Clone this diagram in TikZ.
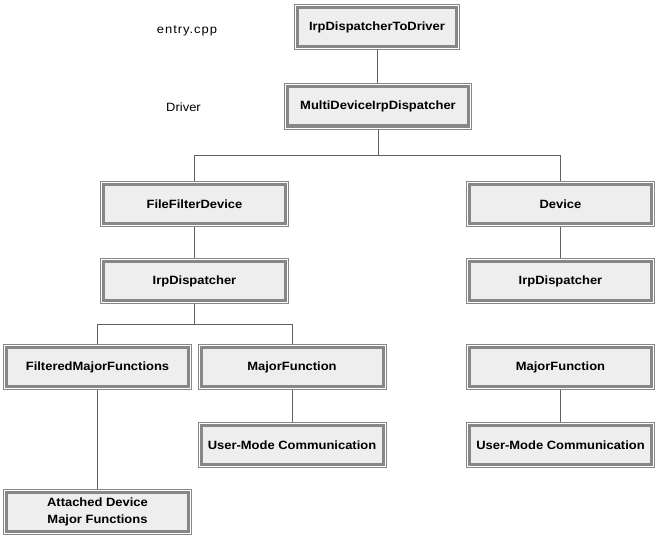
\documentclass[tikz,border=0pt]{standalone}
\usepackage{fontspec}
\setmainfont{Liberation Sans}[FakeStretch=1.08]
\definecolor{boxfill}{HTML}{EEEEEE}
\definecolor{boxline}{HTML}{878787}
\definecolor{conn}{HTML}{606060}
\begin{document}
\begin{tikzpicture}[x=1pt,y=-1pt,
  cls/.style={rectangle, inner sep=0pt, outer sep=3.5pt,
    minimum width=182pt, minimum height=39pt,
    font=\fontsize{12}{17}\selectfont\bfseries, align=center,
    preaction={draw=boxline, line width=7pt},
    preaction={draw=white, line width=5pt},
    fill=boxfill, draw=boxline, line width=3pt},
  lbl/.style={font=\fontsize{12}{14}\selectfont},
  link/.style={draw=conn, line width=0.9pt}]
\useasboundingbox[fill=white] (0,0) rectangle (662,543);
\node[cls, minimum width=159pt] (top) at (377,27) {IrpDispatcherToDriver};
\node[cls, minimum width=181pt] (multi) at (378,106.5) {MultiDeviceIrpDispatcher};
\node[cls] (ffd) at (194.5,204) {FileFilterDevice};
\node[cls] (dev) at (560.5,204) {Device};
\node[cls] (irpl) at (194.5,281) {IrpDispatcher};
\node[cls] (irpr) at (560.5,281) {IrpDispatcher};
\node[cls] (fmf) at (97.5,367) {FilteredMajorFunctions};
\node[cls] (mfl) at (292,367) {MajorFunction};
\node[cls] (mfr) at (560.5,367) {MajorFunction};
\node[cls] (umcl) at (292,445) {User-Mode Communication};
\node[cls] (umcr) at (560.5,445) {User-Mode Communication};
\node[cls] (admf) at (97.5,511.5) {Attached Device\\Major Functions};
\node[lbl] (entry) at (187,31) {\addfontfeature{LetterSpace=8}entry.cpp};
\node[lbl] (drv) at (183.5,107) {Driver};
\coordinate (b1) at (377,155);
\coordinate (b2) at (194.5,324);
\draw[link] (top) -- (top.south |- multi.north);
\draw[link] (multi) -- (multi.south |- b1) -| (ffd.north);
\draw[link] (multi.south |- b1) -| (dev.north);
\draw[link] (ffd) -- (irpl);
\draw[link] (dev) -- (irpr);
\draw[link] (irpl) -- (irpl.south |- b2) -| (fmf.north);
\draw[link] (irpl.south |- b2) -| (mfl.north);
\draw[link] (mfl) -- (umcl);
\draw[link] (mfr) -- (umcr);
\draw[link] (fmf) -- (admf);
\end{tikzpicture}
\end{document}
